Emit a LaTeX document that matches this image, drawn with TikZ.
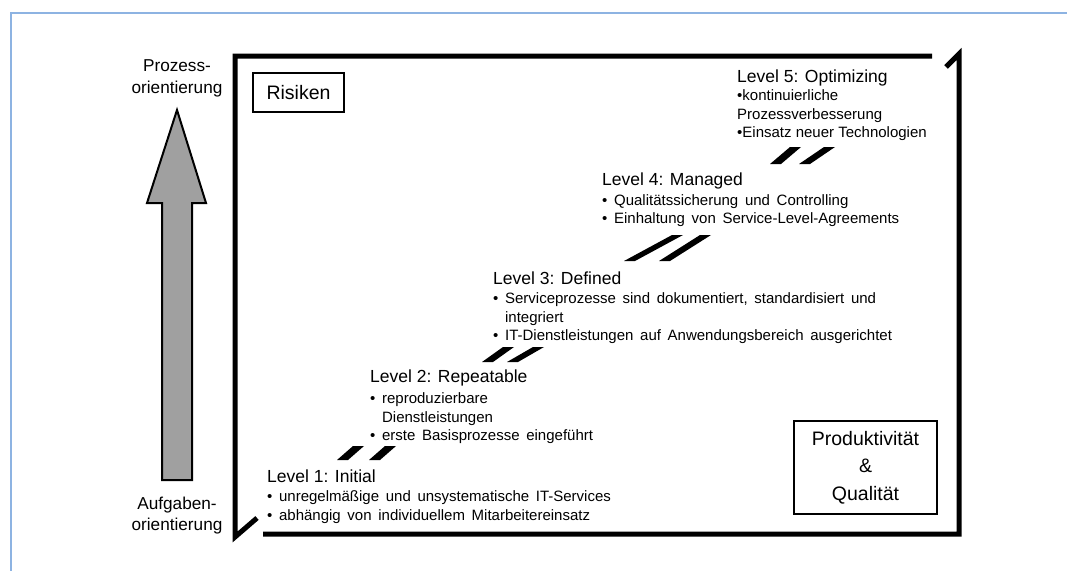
\documentclass[tikz,border=0pt]{standalone}
\usepackage{fontspec}
\setmainfont{Liberation Sans}
\newfontfamily\widefont[WordSpace=1.6]{Liberation Sans}
\definecolor{pageblue}{HTML}{8DB3E2}
\definecolor{arrowgray}{HTML}{A0A0A0}
\tikzset{
  leveltitle/.style={anchor=base west, inner sep=0pt, font=\fontsize{17.5}{20}\selectfont},
  levelitem/.style={anchor=base west, inner sep=0pt, font=\widefont\fontsize{15}{18}\selectfont},
  plainitem/.style={anchor=base west, inner sep=0pt, font=\fontsize{15}{18}\selectfont},
  sidelabel/.style={anchor=base, inner sep=0pt, font=\fontsize{17.2}{20}\selectfont},
  cornerbox/.style={draw, line width=2.5pt, inner sep=0pt, align=center,
                    font=\fontsize{19.5}{27.5}\selectfont},
  framestroke/.style={line width=5pt, line join=miter},
  stairbar/.style={fill=black},
}
% one slanted bar of a stair mark: bottom-left corner, top-right corner
\newcommand\stairbar[4]{\fill[stairbar] (#1,#2) -- ++(11,0) -- (#3,#4) -- ++(-11,0) -- cycle;}
\begin{document}
\begin{tikzpicture}[x=1pt,y=-1pt]
\useasboundingbox (0,0) rectangle (1067,571);

% page rule
\draw[pageblue, line width=1.5pt] (1067,13) -- (11,13) -- (11,571);

% vertical orientation arrow
\filldraw[fill=arrowgray, draw=black, line width=2pt, line join=miter]
  (162,480) -- (162,203) -- (147,203) -- (177,110) -- (206,203)
  -- (192,203) -- (192,480) -- cycle;
\node[sidelabel] (pro1) at (177,71) {Prozess-};
\node[sidelabel] (pro2) at (177,93) {orientierung};
\node[sidelabel] (auf1) at (177,509) {Aufgaben-};
\node[sidelabel] (auf2) at (177,530) {orientierung};

% main frame
\draw[framestroke] (932,56) -- (235,56) -- (235,537) -- (257,518);
\draw[framestroke] (946,67) -- (959,54) -- (959,534) -- (263,534);

% corner boxes
\node[cornerbox, minimum width=91, minimum height=39] (risk) at (298.5,92.5) {Risiken};
\node[cornerbox, minimum width=143, minimum height=93] (prod) at (865.5,467.5)
  {Produktivität\\\&\\Qualität};

% Level 5
\node[leveltitle] (l5t) at (737,82) {Level 5: Optimizing};
\node[plainitem] (l5a) at (737,100) {•kontinuierliche};
\node[plainitem] (l5b) at (737,119) {Prozessverbesserung};
\node[plainitem] (l5c) at (737,137) {•Einsatz neuer Technologien};

% Level 4
\node[leveltitle] (l4t) at (602,185) {Level 4: Managed};
\node[levelitem] (l4a) at (602,205) {• Qualitätssicherung und Controlling};
\node[levelitem] (l4b) at (602,223) {• Einhaltung von Service-Level-Agreements};

% Level 3
\node[leveltitle] (l3t) at (493,284) {Level 3: Defined};
\node[levelitem] (l3a) at (493,303) {• Serviceprozesse sind dokumentiert, standardisiert und};
\node[levelitem] (l3b) at (493,322) {\phantom{• }integriert};
\node[levelitem] (l3c) at (493,340) {• IT-Dienstleistungen auf Anwendungsbereich ausgerichtet};

% Level 2
\node[leveltitle] (l2t) at (370,382) {Level 2: Repeatable};
\node[levelitem] (l2a) at (370,403) {• reproduzierbare};
\node[levelitem] (l2b) at (370,422) {\phantom{• }Dienstleistungen};
\node[levelitem] (l2c) at (370,440) {• erste Basisprozesse eingeführt};

% Level 1
\node[leveltitle] (l1t) at (267,482) {Level 1: Initial};
\node[levelitem] (l1a) at (267,501) {• unregelmäßige und unsystematische IT-Services};
\node[levelitem] (l1b) at (267,520) {• abhängig von individuellem Mitarbeitereinsatz};

% stair marks between the levels
\stairbar{337}{460}{364}{446}
\stairbar{369}{460}{396}{446}
\stairbar{482}{362}{514}{347}
\stairbar{507}{362}{544}{347}
\stairbar{624}{261}{683}{235}
\stairbar{659}{261}{711}{235}
\stairbar{770}{164}{801}{147}
\stairbar{799}{164}{835}{147}
\end{tikzpicture}
\end{document}
